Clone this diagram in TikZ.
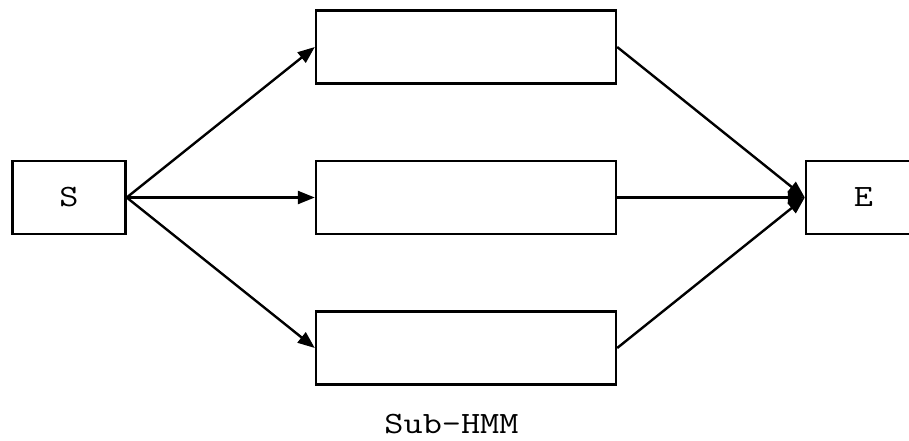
\documentclass[tikz,border=0pt]{standalone}
\usepackage{fontspec}
\setmainfont{Latin Modern Mono}[FakeStretch=1.2]
\usetikzlibrary{arrows.meta}
\begin{document}
\begin{tikzpicture}[x=1pt,y=-1pt,
  lbl/.style={font=\fontsize{31}{33}\selectfont},
  box/.style={draw,line width=2.4pt,minimum height=73pt,inner sep=0pt,lbl},
  link/.style={line width=2.4pt,-{Triangle[length=17pt,width=13pt]}}]
  \useasboundingbox (0,0) rectangle (909,440);
  \clip (0,0) rectangle (909,440);
  \node[box,minimum width=113pt] (s) at (69,197.5) {S};
  \node[box,minimum width=300pt] (top) at (466,47) {};
  \node[box,minimum width=300pt] (mid) at (466,197.5) {};
  \node[box,minimum width=300pt] (bot) at (466,348) {};
  \node[box,minimum width=115pt] (e) at (863.5,197.5) {E};
  \node[lbl,anchor=base] (cap) at (451.5,433) {Sub-HMM};
  \foreach \n in {top,mid,bot} {
    \draw[link] (s.east) -- (\n.west);
    \draw[link] (\n.east) -- (e.west);
  }
\end{tikzpicture}
\end{document}
